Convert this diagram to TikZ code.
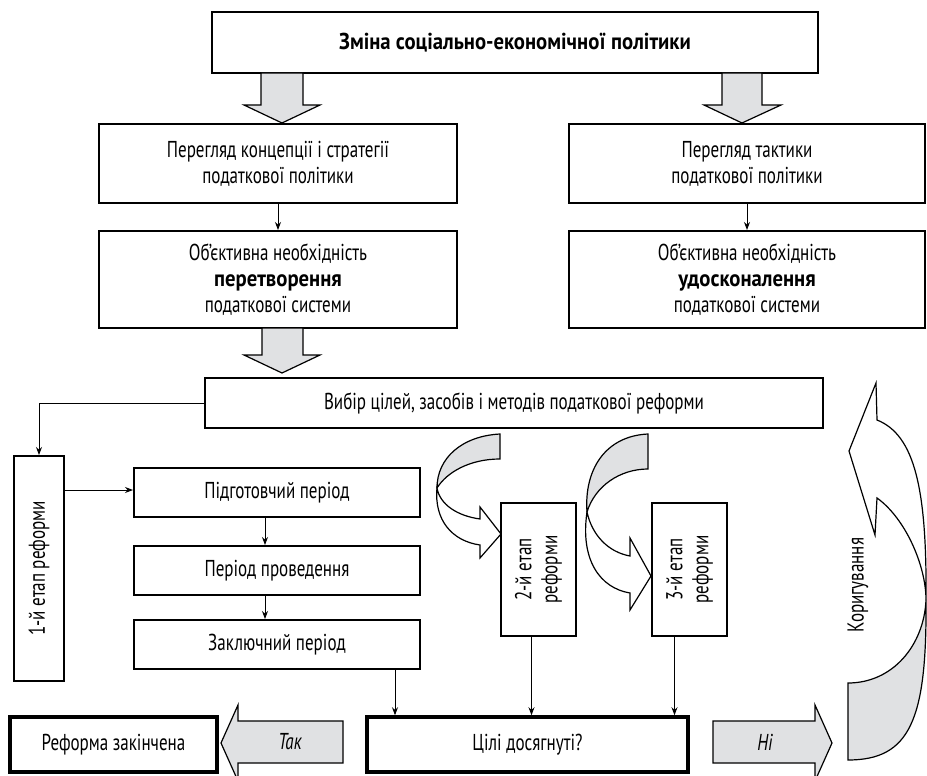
\documentclass[tikz,border=0pt]{standalone}
\usepackage{fontspec}
\setmainfont{PT Sans}[FakeStretch=0.74]
\newfontfamily\condbold{PT Sans Bold}[FakeStretch=0.9]
\usetikzlibrary{arrows.meta}
\definecolor{bandgray}{RGB}{224,225,227}
\tikzset{
  box/.style={draw, line width=2pt, fill=white, align=center, inner sep=0pt},
  heavybox/.style={box, line width=3.5pt},
  arr/.style={line width=1pt, -{Stealth[length=8pt,width=6pt]}},
  blockarrow/.style={draw, line width=1.2pt, fill=bandgray, line join=miter},
  ribbon/.style={draw, line width=1.2pt, line join=miter},
}
\begin{document}
\begin{tikzpicture}[x=1pt, y=-1pt, font=\fontsize{23}{26}\selectfont]
\useasboundingbox (0,0) rectangle (927,776);
\fill[white] (0,0) rectangle (927,776);

% top level
\node[box, minimum width=606, minimum height=61] (top) at (515,42.5)
  {\condbold Зміна соціально-економічної політики};

% wide block arrows from the top box
\draw[blockarrow] (261,73) -- (261,105) -- (244,105) -- (282,123) -- (320,105) -- (303,105) -- (303,73) -- cycle;
\draw[blockarrow] (722,73) -- (722,105) -- (704,105) -- (742,123) -- (781,105) -- (762,105) -- (762,73) -- cycle;

% revision of policy
\node[box, minimum width=358, minimum height=79] (rev1) at (278,163.5)
  {Перегляд концепції і стратегії\\податкової політики};
\node[box, minimum width=356, minimum height=79] (rev2) at (747,163.5)
  {Перегляд тактики\\податкової політики};

% necessity boxes
\node[box, minimum width=358, minimum height=97] (need1) at (278,279.5)
  {Об’єктивна необхідність\\{\condbold перетворення}\\податкової системи};
\node[box, minimum width=356, minimum height=97] (need2) at (747,279.5)
  {Об’єктивна необхідність\\{\condbold удосконалення}\\податкової системи};

\draw[arr] (rev1) -- (need1);
\draw[arr] (rev2) -- (need2);

\draw[blockarrow] (262,328) -- (262,355) -- (244,355) -- (282,373) -- (320,355) -- (303,355) -- (303,328) -- cycle;

% choice of goals
\node[box, minimum width=618, minimum height=50] (choice) at (514,403)
  {Вибір цілей, засобів і методів податкової реформи};

% first stage
\node[box, minimum width=50, minimum height=225] (st1) at (39,568.5) {};
\node[rotate=90] (st1txt) at (st1) {1-й етап реформи};
\draw[arr] (choice.west) -| (st1.north);

\node[box, minimum width=286, minimum height=49] (prep) at (277,492.5) {Підготовчий період};
\node[box, minimum width=286, minimum height=49] (run) at (277,570.5) {Період проведення};
\node[box, minimum width=286, minimum height=49] (fin) at (277,644.5) {Заключний період};

\draw[arr] (st1.east |- 0,490) -- (prep.west |- 0,490);
\draw[arr] ([xshift=-12pt]prep.south) -- ([xshift=-12pt]run.north);
\draw[arr] ([xshift=-12pt]run.south) -- ([xshift=-12pt]fin.north);

% second and third stages
\node[box, minimum width=75, minimum height=133] (st2) at (538.5,569.5) {};
\node[rotate=90, align=center] (st2txt) at (st2) {2-й етап\\реформи};
\node[box, minimum width=75, minimum height=133] (st3) at (689.5,569.5) {};
\node[rotate=90, align=center] (st3txt) at (st3) {3-й етап\\реформи};

% twisted ribbon arrows towards the stages
\path[ribbon, fill=bandgray] (500,434) .. controls (462,436) and (437,458) .. (437,488)
  .. controls (447,472) and (470,459) .. (500,459) -- cycle;
\path[ribbon, fill=white] (437,488) .. controls (440,505) and (458,516) .. (480,519)
  -- (480,507) -- (501,534) -- (480,558) -- (480,545)
  .. controls (452,541) and (434,520) .. (437,488) -- cycle;

\path[ribbon, fill=bandgray] (648,434) .. controls (605,436) and (584,470) .. (587,512)
  .. controls (595,486) and (620,469) .. (648,469) -- cycle;
\path[ribbon, fill=white] (587,512) .. controls (592,535) and (608,552) .. (630,556)
  -- (630,538) -- (651,576) -- (630,610) -- (630,593)
  .. controls (600,588) and (580,560) .. (587,512) -- cycle;

% result row
\node[heavybox, minimum width=207, minimum height=55] (done) at (113.5,744.5) {Реформа закінчена};
\node[heavybox, minimum width=321, minimum height=55] (goal) at (527.5,744.5) {Цілі досягнуті?};

\draw[arr] ([xshift=118pt]fin.south) -- ([xshift=118pt]fin.south |- goal.north);
\draw[arr] ([xshift=-7pt]st2.south) -- ([xshift=-7pt]st2.south |- goal.north);
\draw[arr] ([xshift=-15pt]st3.south) -- ([xshift=-15pt]st3.south |- goal.north);

\draw[blockarrow] (343,721) -- (238,721) -- (238,705) -- (221,743) -- (238,781) -- (238,763) -- (343,763) -- cycle;
\node (yes) at (290,742) {\itshape Так};
\draw[blockarrow] (713,721) -- (815,721) -- (815,705) -- (832,743) -- (815,781) -- (815,763) -- (713,763) -- cycle;
\node (no) at (765,742) {\itshape Ні};

% correction loop
\path[ribbon, fill=white] (876,383) -- (849,451) -- (875,535) -- (877,498)
  .. controls (905,518) and (926,565) .. (926,600)
  .. controls (927,490) and (915,435) .. (877,420) -- cycle;
\path[ribbon, fill=bandgray] (926,600) .. controls (924,645) and (893,683) .. (848,683)
  -- (848,760) .. controls (910,760) and (927,720) .. (926,600) -- cycle;
\node[rotate=90] (corr) at (858,585) {Коригування};
\end{tikzpicture}
\end{document}
